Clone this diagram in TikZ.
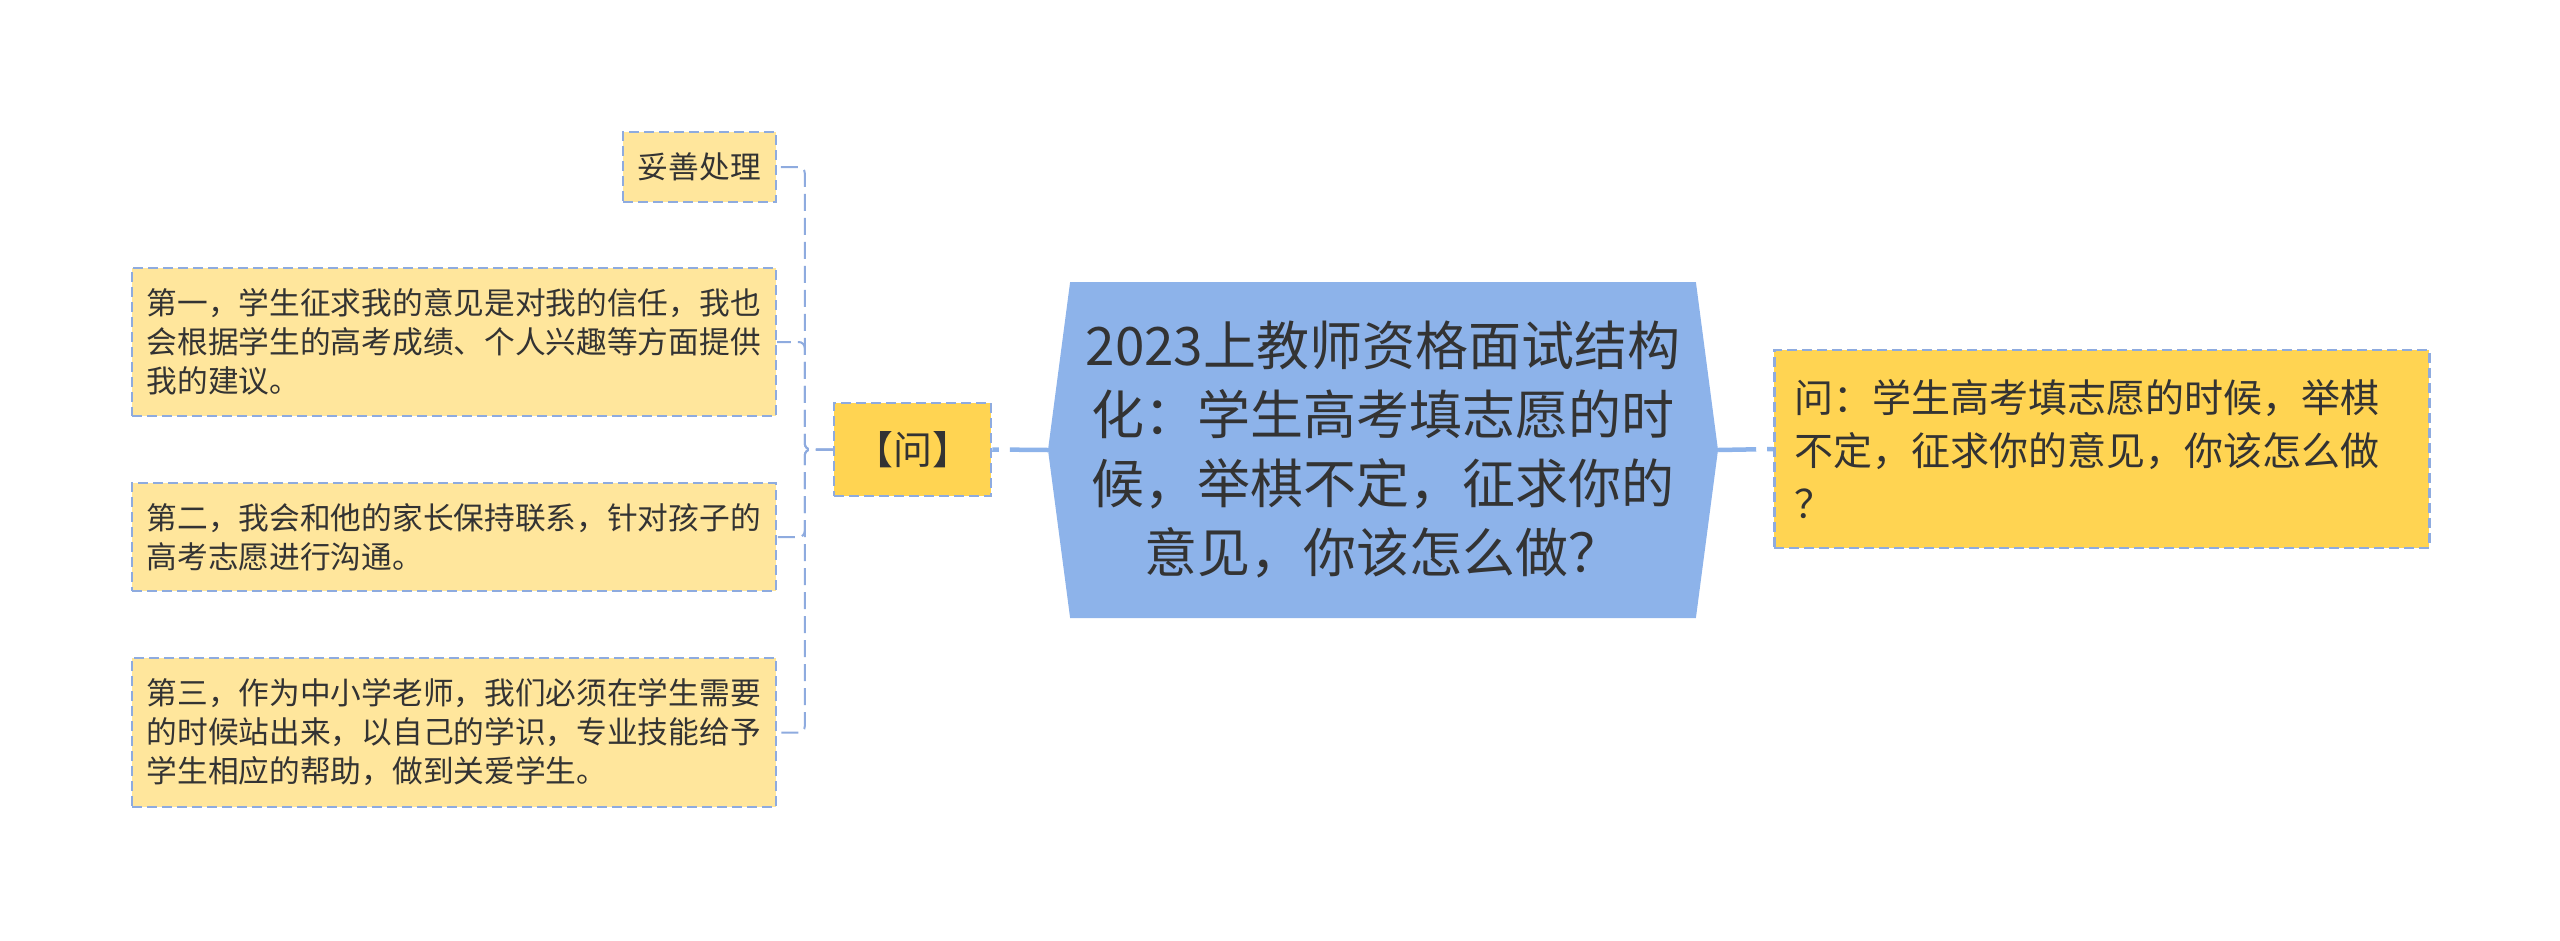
\documentclass[tikz,border=0pt]{standalone}
\usepackage{fontspec}
\setmainfont{Noto Sans CJK SC}
\usetikzlibrary{shapes.symbols}
\definecolor{rootblue}{HTML}{8DB3EA}
\definecolor{dashblue}{HTML}{8EABDF}
\definecolor{leafyellow}{HTML}{FFE69C}
\definecolor{qyellow}{HTML}{FFD452}
\definecolor{txt}{HTML}{333333}

\begin{document}
\begin{tikzpicture}[x=1pt, y=-1pt,
    every node/.style={text=txt},
    root/.style={signal, signal to=west and east, signal pointer angle=165, fill=rootblue,
        minimum width=670pt, minimum height=336pt, align=center, font=\fontsize{53}{69}\selectfont},
    qbox/.style={draw=dashblue, line width=2.5pt, dash pattern=on 10pt off 5pt, fill=qyellow,
        font=\fontsize{39}{53}\selectfont},
    leaf/.style={draw=dashblue, line width=2.5pt, dash pattern=on 10pt off 5pt, fill=leafyellow,
        align=left, inner xsep=15pt, anchor=east, font=\fontsize{30.7}{39}\selectfont},
    mainline/.style={draw=rootblue, line width=4.5pt, dash pattern=on 38pt off 11pt},
    leafline/.style={draw=dashblue, line width=2pt, dash pattern=on 17pt off 7pt, rounded corners=6pt}]
    \useasboundingbox (0,0) rectangle (2560,940);

    % 中心主题
    \node[root] (root) at (1383,450) {2023上教师资格面试结构\\化：学生高考填志愿的时\\候，举棋不定，征求你的\\意见，你该怎么做？};

    % 右侧问题
    \node[qbox, anchor=west, text width=615pt, inner xsep=20pt, minimum height=198pt, align=left] (ans) at (1773,449)
        {问：学生高考填志愿的时候，举棋\\不定，征求你的意见，你该怎么做\\？};

    % 左侧分支
    \node[qbox, minimum width=157pt, minimum height=93pt] (q) at (912.5,449.5) {【问】};
    \node[leaf, minimum height=70pt] (l1) at (777,167) {妥善处理};
    \node[leaf, minimum height=148pt] (l2) at (777,342) {第一，学生征求我的意见是对我的信任，我也\\会根据学生的高考成绩、个人兴趣等方面提供\\我的建议。};
    \node[leaf, minimum height=108pt] (l3) at (777,537) {第二，我会和他的家长保持联系，针对孩子的\\高考志愿进行沟通。};
    \node[leaf, minimum height=149pt] (l4) at (777,732.5) {第三，作为中小学老师，我们必须在学生需要\\的时候站出来，以自己的学识，专业技能给予\\学生相应的帮助，做到关爱学生。};

    % 连线
    \draw[mainline] (root.west) -- (q.east);
    \draw[mainline] (root.east) -- (ans.west);
    \foreach \i in {1,...,4}
        \draw[leafline] (q.west) -- ++(-28,0) |- (l\i.east);
\end{tikzpicture}
\end{document}
